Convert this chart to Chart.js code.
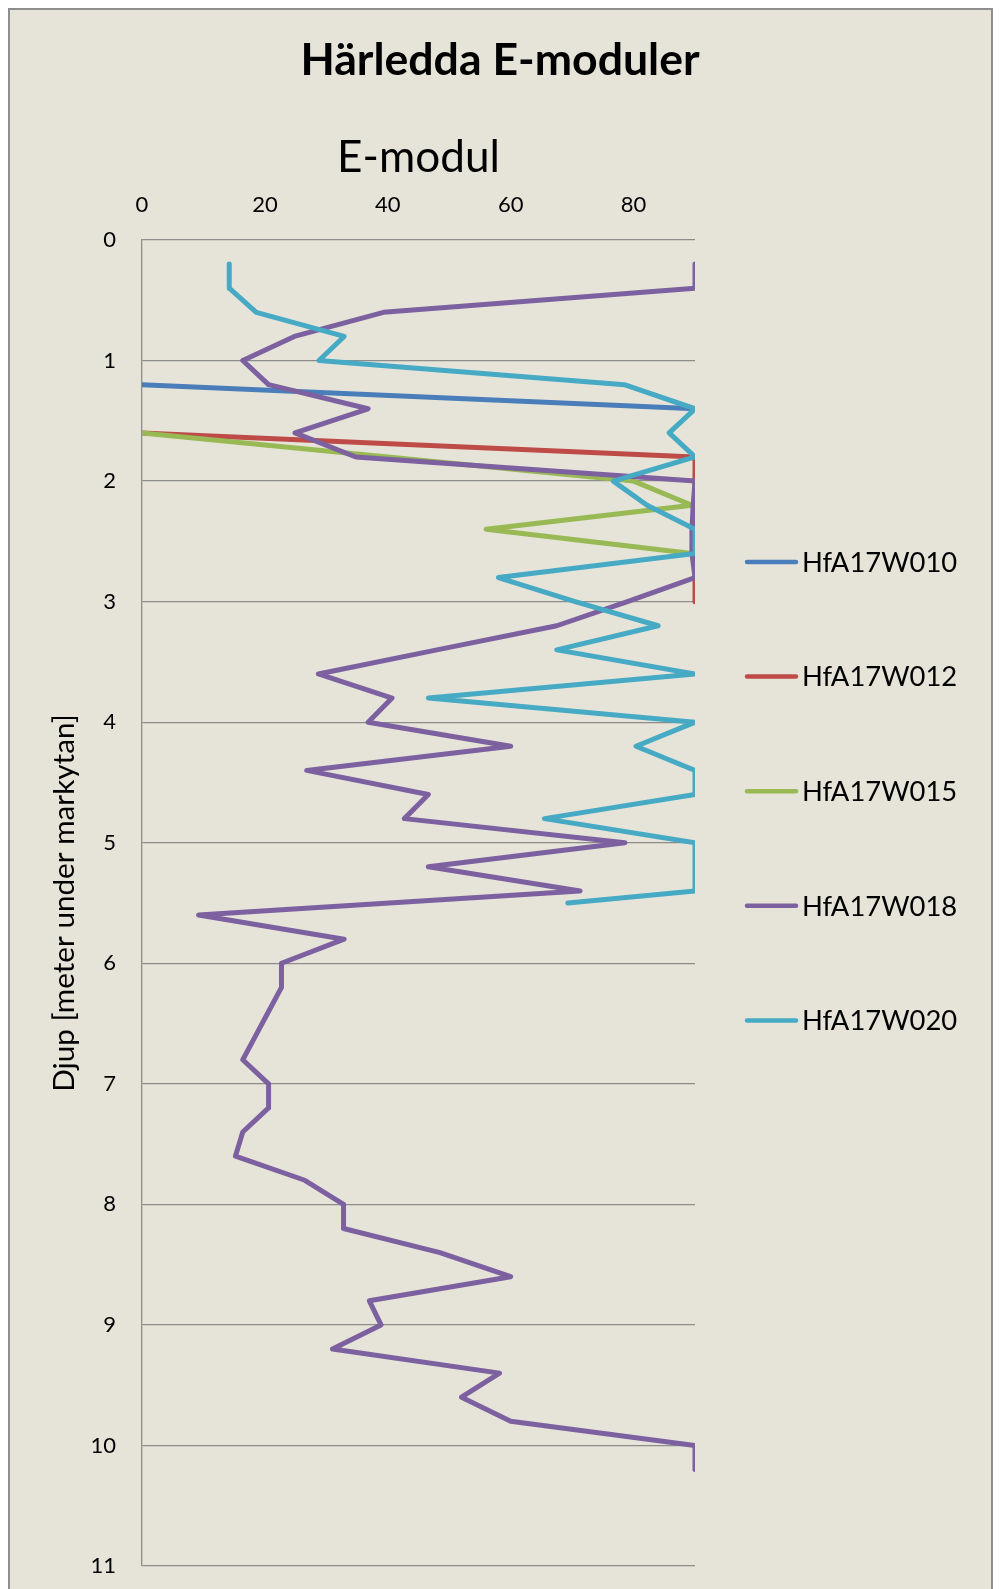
<!DOCTYPE html>
<html><head><meta charset="utf-8">
<script src="https://cdn.jsdelivr.net/npm/chart.js@4.4.1/dist/chart.umd.min.js"></script>
<style>
html,body{margin:0;padding:0;background:#fff;overflow:hidden;}
#frame{position:absolute;left:8px;top:8px;width:985px;height:1620px;background:#E6E4D9;border:2px solid #8E8E8E;box-sizing:border-box;}
#wrap{position:absolute;left:0;top:0;width:1000px;height:1589px;}
canvas{display:block;}
</style></head><body>
<div id="frame"></div>
<div id="wrap"><canvas id="c" width="1000" height="1589"></canvas></div>
<script>
// ---- data ----
const seriesNames = ['HfA17W010','HfA17W012','HfA17W015','HfA17W018','HfA17W020'];
const seriesColors = ['#4A7EBB','#BE4B48','#98B954','#7D60A0','#46AAC5'];
const xTicksMax = 90;
const yTicksMax = 11;

const depthW010 = [1.2, 1.4];
const eW010     = [0, 90];

const depthW012 = [1.6, 1.8, 2.0, 2.2, 2.4, 2.6, 2.8, 3.0];
const eW012     = [0, 90, 90, 90, 90, 90, 90, 90];

const depthW015 = [1.6, 1.8, 2.0, 2.2, 2.4, 2.6];
const eW015     = [0, 40, 80, 89.5, 56, 89.5];

const depthW018 = [0.2,0.4,0.6,0.8,1.0,1.2,1.4,1.6,1.8,2.0,2.2,2.4,2.6,2.8,3.0,3.2,3.4,3.6,3.8,4.0,
                   4.2,4.4,4.6,4.8,5.0,5.2,5.4,5.6,5.8,6.0,6.2,6.4,6.6,6.8,7.0,7.2,7.4,7.6,7.8,8.0,
                   8.2,8.4,8.6,8.8,9.0,9.2,9.4,9.6,9.8,10.0,10.2];
const eW018     = [90,90,39.3,24.8,16.4,20.6,36.8,24.9,34.8,90,89.7,89.5,89.5,90,79,67.5,48,28.7,40.7,36.8,
                   60,26.8,46.6,42.7,78.6,46.6,71.3,9.2,32.9,22.7,22.7,20.6,18.5,16.4,20.6,20.6,16.4,15.2,26.5,32.8,
                   32.8,48.5,60,37,38.9,31,58.2,52,60,90,90];

const depthW020 = [0.2,0.4,0.6,0.8,1.0,1.2,1.4,1.6,1.8,2.0,2.2,2.4,2.6,2.8,3.0,3.2,3.4,3.6,3.8,4.0,
                   4.2,4.4,4.6,4.8,5.0,5.2,5.4,5.5];
const eW020     = [14.2,14.2,18.6,32.9,28.8,78.5,90,85.8,90,76.7,82.2,90,90,58,70.5,84,67.5,90,46.6,90,
                   80.4,90,90,65.5,90,90,90,69.3];

const allDepths = [depthW010, depthW012, depthW015, depthW018, depthW020];
const allValues = [eW010, eW012, eW015, eW018, eW020];

// ---- font fitting ----
const FAM = 'Lato, "Open Sans", sans-serif';
const mctx = document.createElement('canvas').getContext('2d');
function fitSize(text, weight, target){
  mctx.font = weight + ' 100px ' + FAM;
  const w = mctx.measureText(text).width;
  return Math.round(1000 * target / w) / 10;
}
const TS = fitSize('Härledda E-moduler', 'bold', 399);
const XS = fitSize('E-modul', 'normal', 163);
const YS = fitSize('Djup [meter under markytan]', 'normal', 378);
const LS = fitSize('HfA17W010', 'normal', 155);
const KS = fitSize('20', 'normal', 25.5);

function points(d, e){ return d.map((y, i) => ({x: e[i], y: y})); }

const datasets = seriesNames.map((name, i) => ({
  label: name,
  data: points(allDepths[i], allValues[i]),
  borderColor: seriesColors[i],
  backgroundColor: seriesColors[i],
  borderWidth: 5,
  borderJoinStyle: 'round',
  borderCapStyle: 'round',
  pointRadius: 0,
  showLine: true,
  fill: false,
  tension: 0,
  order: seriesNames.length - i
}));

const legendPlugin = {
  id: 'sideLegend',
  afterDraw(chart){
    const ctx = chart.ctx;
    ctx.save();
    chart.data.datasets.forEach((ds, i) => {
      const y = 562 + i * 114.6;
      ctx.strokeStyle = ds.borderColor;
      ctx.lineWidth = 4.5;
      ctx.lineCap = 'round';
      ctx.beginPath();
      ctx.moveTo(747, y);
      ctx.lineTo(796, y);
      ctx.stroke();
      ctx.fillStyle = '#000';
      ctx.font = LS + 'px ' + FAM;
      ctx.textBaseline = 'middle';
      ctx.textAlign = 'left';
      ctx.fillText(ds.label, 802, y + 1);
    });
    ctx.restore();
  }
};

const titleTop = 61 - TS * 0.6;
new Chart(document.getElementById('c'), {
  type: 'scatter',
  data: { datasets: datasets },
  plugins: [legendPlugin],
  options: {
    responsive: false,
    animation: false,
    devicePixelRatio: 1,
    layout: { padding: { left: 0, right: 0, top: 0, bottom: 23 } },
    plugins: {
      legend: { display: false },
      tooltip: { enabled: false },
      title: {
        display: true, text: 'Härledda E-moduler', color: '#000',
        font: { family: FAM, weight: 'bold', size: TS },
        padding: { top: titleTop, bottom: 120 - titleTop - TS * 1.2 }
      }
    },
    scales: {
      x: {
        type: 'linear', position: 'top', min: 0, max: xTicksMax,
        ticks: { stepSize: 20, includeBounds: false, color: '#000', font: { family: FAM, size: KS }, padding: 22 },
        grid: { display: false, drawTicks: false },
        border: { display: false },
        title: { display: true, text: 'E-modul', color: '#000', font: { family: FAM, size: XS }, padding: { top: 38 - XS * 0.6, bottom: 0 } },
        afterFit(s){ s.height = 120; s.paddingLeft = 0; s.paddingRight = 0; }
      },
      y: {
        type: 'linear', position: 'left', reverse: true, min: 0, max: yTicksMax,
        ticks: { stepSize: 1, color: '#000', font: { family: FAM, size: KS }, padding: 26 },
        grid: { color: '#8C8C8C', lineWidth: 1.3, drawTicks: false },
        border: { display: true, color: '#8C8C8C', width: 1.3 },
        title: { display: true, text: 'Djup [meter under markytan]', color: '#000', font: { family: FAM, size: YS }, padding: { top: 64.5 - YS * 0.6, bottom: 0 } },
        afterFit(s){ s.width = 142; s.paddingTop = 0; s.paddingBottom = 0; }
      },
      legendSpace: {
        type: 'linear', position: 'right', display: true,
        ticks: { display: false },
        grid: { display: false, drawTicks: false },
        border: { display: false },
        afterFit(s){ s.width = 305; s.paddingTop = 0; s.paddingBottom = 0; }
      }
    }
  }
});
</script>
</body></html>
